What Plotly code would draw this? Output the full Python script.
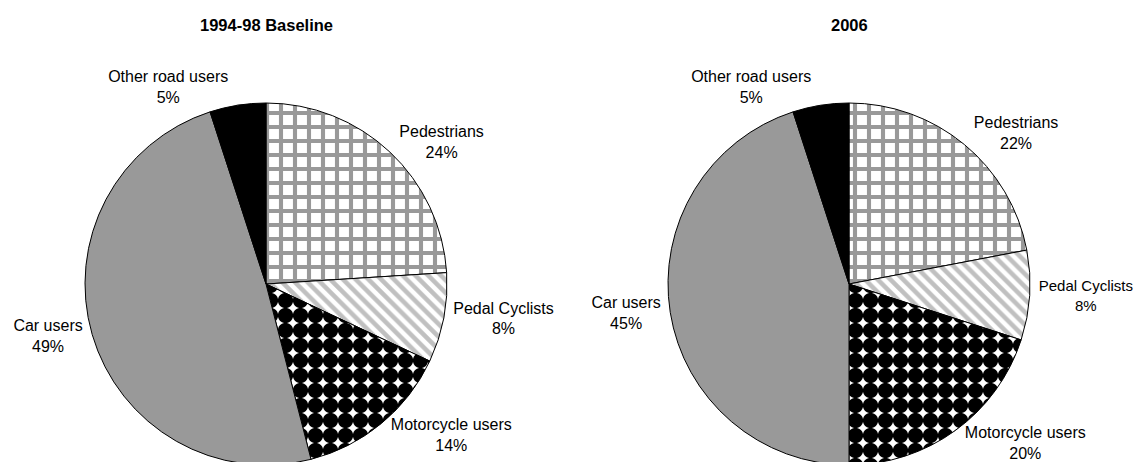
import plotly.graph_objects as go

categories = ["Pedestrians", "Pedal Cyclists", "Motorcycle users", "Car users", "Other road users"]
baseline_values = [24, 8, 14, 49, 5]
values_2006 = [22, 8, 20, 45, 5]
titles = ["1994-98 Baseline", "2006"]

# slice styles (fill / pattern)
bg_colors = ["#ffffff", "#ffffff", "#ffffff", "#999999", "#000000"]
fg_colors = ["#999999", "#c0c0c0", "#000000", "#999999", "#000000"]
shapes = ["+", "\\", ".", "", ""]
sizes = [14, 9, 15, 8, 8]
solidity = [0.5, 0.5, 0.795, 0.3, 0.3]
label_sizes = [[16, 16, 16, 16, 16], [16, 15, 16, 16, 16]]

W, H = 1143, 462
OFF = 8  # page body margin offset
centers_x = [266 - OFF, 849 - OFF]
radius = 181
top = 103 - OFF
bottom = top + 2 * radius
FONT = "Liberation Sans, Arial, sans-serif"

fig = go.Figure()
for vals, cx, ls in zip([baseline_values, values_2006], centers_x, label_sizes):
    fig.add_trace(go.Pie(
        labels=categories,
        values=vals,
        sort=False,
        direction="clockwise",
        rotation=0,
        textposition="outside",
        texttemplate="%{label}<br>%{value}%",
        textfont=dict(family=FONT, size=ls, color="#000000"),
        marker=dict(
            colors=bg_colors,
            line=dict(color="#000000", width=1),
            pattern=dict(shape=shapes, fgcolor=fg_colors, bgcolor=bg_colors,
                         size=sizes, solidity=solidity, fillmode="replace"),
        ),
        domain=dict(x=[(cx - radius) / W, (cx + radius) / W],
                    y=[(H - bottom) / H, (H - top) / H]),
        showlegend=False,
        hoverinfo="label+percent",
    ))

for t, cx in zip(titles, centers_x):
    fig.add_annotation(text="<b>%s</b>" % t, x=cx / W, y=1 - (25 - OFF) / H,
                       xref="paper", yref="paper",
                       showarrow=False, xanchor="center", yanchor="middle",
                       font=dict(family=FONT, size=16.5, color="#000000"))

fig.update_layout(
    width=W, height=H,
    margin=dict(l=0, r=0, t=0, b=0),
    paper_bgcolor="#ffffff",
    plot_bgcolor="#ffffff",
)
fig.write_html("out.html")
